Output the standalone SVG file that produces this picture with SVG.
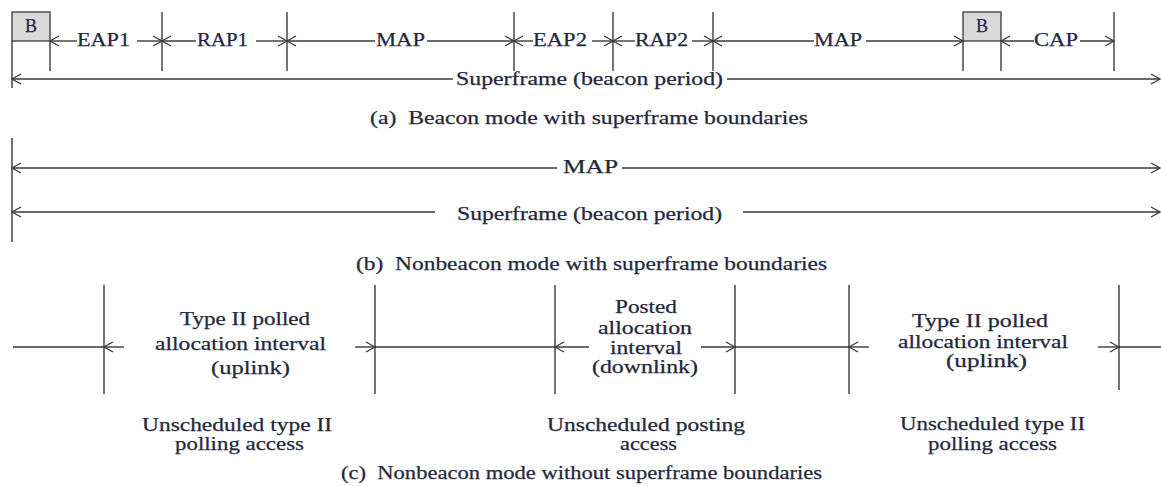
<svg xmlns="http://www.w3.org/2000/svg" width="1161" height="486" viewBox="0 0 1161 486">
  <defs>
    <style>
      .bg { fill: #ffffff; }
      .ln { stroke: #3a3a3a; stroke-width: 1.4; fill: none; }
      .ar { stroke: #3a3a3a; stroke-width: 1.4; fill: none; marker-end: url(#chev); }
      .box { fill: #d9d9d9; stroke: #444444; stroke-width: 1.4; }
      .t { font-family: "Liberation Serif", "Times New Roman", serif; font-size: 18px; fill: #25283d; stroke: #25283d; stroke-width: 0.25; }
      .cap { font-family: "Liberation Serif", "Times New Roman", serif; font-size: 18.5px; fill: #25283d; stroke: #25283d; stroke-width: 0.25; }
    </style>
    <!-- open chevron arrowhead, tip at the end of the line -->
    <marker id="chev" markerUnits="userSpaceOnUse" markerWidth="12" markerHeight="12" refX="10" refY="6" orient="auto">
      <path d="M1,1 L10,6 L1,11" fill="none" stroke="#3a3a3a" stroke-width="1.3"/>
    </marker>
  </defs>

  <rect class="bg" x="0" y="0" width="1161" height="486"/>

  <!-- (a) Beacon mode with superframe boundaries -->
  <g id="beacon-mode">
    <g id="beacon-1">
      <rect class="box" x="12" y="12" width="38" height="29"/>
      <text class="t" x="31" y="32" text-anchor="middle">B</text>
    </g>
    <g id="beacon-2">
      <rect class="box" x="963" y="12" width="38" height="29"/>
      <text class="t" x="982" y="32" text-anchor="middle">B</text>
    </g>
    <g id="boundaries-a">
      <line class="ln" x1="12" y1="41" x2="12" y2="88"/>
      <line class="ln" x1="50" y1="41" x2="50" y2="71"/>
      <line class="ln" x1="162" y1="12" x2="162" y2="71"/>
      <line class="ln" x1="287" y1="12" x2="287" y2="71"/>
      <line class="ln" x1="514" y1="12" x2="514" y2="71"/>
      <line class="ln" x1="613" y1="12" x2="613" y2="71"/>
      <line class="ln" x1="713" y1="12" x2="713" y2="71"/>
      <line class="ln" x1="963" y1="41" x2="963" y2="71"/>
      <line class="ln" x1="1001" y1="41" x2="1001" y2="71"/>
      <line class="ln" x1="1114" y1="12" x2="1114" y2="71"/>
    </g>
    <g id="labels-a">
      <text class="t" x="77" y="46" textLength="53" lengthAdjust="spacingAndGlyphs">EAP1</text>
      <text class="t" x="197" y="46" textLength="51" lengthAdjust="spacingAndGlyphs">RAP1</text>
      <text class="t" x="376" y="46" textLength="49" lengthAdjust="spacingAndGlyphs">MAP</text>
      <text class="t" x="533" y="46" textLength="54" lengthAdjust="spacingAndGlyphs">EAP2</text>
      <text class="t" x="635" y="46" textLength="53" lengthAdjust="spacingAndGlyphs">RAP2</text>
      <text class="t" x="814" y="46" textLength="48" lengthAdjust="spacingAndGlyphs">MAP</text>
      <text class="t" x="1034" y="46" textLength="44" lengthAdjust="spacingAndGlyphs">CAP</text>
      <text class="t" x="456" y="85" textLength="267" lengthAdjust="spacingAndGlyphs">Superframe (beacon period)</text>
      <text class="cap" x="370" y="124" textLength="438" lengthAdjust="spacingAndGlyphs" xml:space="preserve">(a)  Beacon mode with superframe boundaries</text>
    </g>
  </g>

  <!-- (b) Nonbeacon mode with superframe boundaries -->
  <g id="nonbeacon-bounded">
    <line class="ln" x1="12" y1="138" x2="12" y2="242"/>
    <text class="t" x="563" y="173" textLength="55" lengthAdjust="spacingAndGlyphs">MAP</text>
    <text class="t" x="457" y="220" textLength="265" lengthAdjust="spacingAndGlyphs">Superframe (beacon period)</text>
    <text class="cap" x="356" y="270" textLength="471" lengthAdjust="spacingAndGlyphs" xml:space="preserve">(b)  Nonbeacon mode with superframe boundaries</text>
  </g>

  <!-- (c) Nonbeacon mode without superframe boundaries -->
  <g id="nonbeacon-unbounded">
    <g id="boundaries-c">
      <line class="ln" x1="104" y1="285" x2="104" y2="394"/>
      <line class="ln" x1="375" y1="285" x2="375" y2="394"/>
      <line class="ln" x1="555" y1="285" x2="555" y2="394"/>
      <line class="ln" x1="735" y1="285" x2="735" y2="394"/>
      <line class="ln" x1="849" y1="285" x2="849" y2="394"/>
      <line class="ln" x1="1119" y1="285" x2="1119" y2="390"/>
    </g>
    <g id="uplink-interval-1">
      <text class="t" x="180" y="325" textLength="130" lengthAdjust="spacingAndGlyphs">Type II polled</text>
      <text class="t" x="155" y="350" textLength="171" lengthAdjust="spacingAndGlyphs">allocation interval</text>
      <text class="t" x="211" y="374" textLength="79" lengthAdjust="spacingAndGlyphs">(uplink)</text>
      <text class="t" x="142" y="431" textLength="190" lengthAdjust="spacingAndGlyphs">Unscheduled type II</text>
      <text class="t" x="175" y="450" textLength="129" lengthAdjust="spacingAndGlyphs">polling access</text>
    </g>
    <g id="downlink-interval">
      <text class="t" x="615" y="313" textLength="62" lengthAdjust="spacingAndGlyphs">Posted</text>
      <text class="t" x="598" y="334" textLength="94" lengthAdjust="spacingAndGlyphs">allocation</text>
      <text class="t" x="610" y="354" textLength="72" lengthAdjust="spacingAndGlyphs">interval</text>
      <text class="t" x="592" y="373" textLength="106" lengthAdjust="spacingAndGlyphs">(downlink)</text>
      <text class="t" x="547" y="431" textLength="198" lengthAdjust="spacingAndGlyphs">Unscheduled posting</text>
      <text class="t" x="620" y="450" textLength="57" lengthAdjust="spacingAndGlyphs">access</text>
    </g>
    <g id="uplink-interval-2">
      <text class="t" x="912" y="327" textLength="136" lengthAdjust="spacingAndGlyphs">Type II polled</text>
      <text class="t" x="898" y="348" textLength="170" lengthAdjust="spacingAndGlyphs">allocation interval</text>
      <text class="t" x="946" y="367" textLength="81" lengthAdjust="spacingAndGlyphs">(uplink)</text>
      <text class="t" x="900" y="430" textLength="185" lengthAdjust="spacingAndGlyphs">Unscheduled type II</text>
      <text class="t" x="928" y="450" textLength="129" lengthAdjust="spacingAndGlyphs">polling access</text>
    </g>
    <text class="cap" x="341" y="479" textLength="481" lengthAdjust="spacingAndGlyphs" xml:space="preserve">(c)  Nonbeacon mode without superframe boundaries</text>
  </g>

  <!-- dimension arrows and time axes -->
  <g id="connectors">
    <!-- (a) period arrows -->
    <line class="ar" x1="77" y1="41" x2="50" y2="41"/>
    <line class="ar" x1="137" y1="41" x2="162" y2="41"/>
    <line class="ar" x1="196" y1="41" x2="162" y2="41"/>
    <line class="ar" x1="256" y1="41" x2="287" y2="41"/>
    <line class="ar" x1="375" y1="41" x2="287" y2="41"/>
    <line class="ar" x1="427" y1="41" x2="514" y2="41"/>
    <line class="ar" x1="533" y1="41" x2="514" y2="41"/>
    <line class="ar" x1="592" y1="41" x2="613" y2="41"/>
    <line class="ar" x1="635" y1="41" x2="613" y2="41"/>
    <line class="ar" x1="692" y1="41" x2="713" y2="41"/>
    <line class="ar" x1="814" y1="41" x2="713" y2="41"/>
    <line class="ar" x1="866" y1="41" x2="963" y2="41"/>
    <line class="ar" x1="1034" y1="41" x2="1001" y2="41"/>
    <line class="ar" x1="1080" y1="41" x2="1114" y2="41"/>
    <line class="ar" x1="453" y1="79" x2="12" y2="79"/>
    <line class="ar" x1="727" y1="79" x2="1160" y2="79"/>
    <!-- (b) MAP and superframe arrows -->
    <line class="ar" x1="557" y1="168" x2="12" y2="168"/>
    <line class="ar" x1="622" y1="168" x2="1160" y2="168"/>
    <line class="ar" x1="435" y1="212" x2="12" y2="212"/>
    <line class="ar" x1="743" y1="212" x2="1160" y2="212"/>
    <!-- (c) time axis -->
    <line class="ln" x1="13" y1="347" x2="104" y2="347"/>
    <line class="ln" x1="375" y1="347" x2="555" y2="347"/>
    <line class="ln" x1="735" y1="347" x2="849" y2="347"/>
    <line class="ln" x1="1119" y1="347" x2="1161" y2="347"/>
    <line class="ar" x1="124" y1="347" x2="104" y2="347"/>
    <line class="ar" x1="355" y1="347" x2="375" y2="347"/>
    <line class="ar" x1="589" y1="347" x2="555" y2="347"/>
    <line class="ar" x1="701" y1="347" x2="735" y2="347"/>
    <line class="ar" x1="869" y1="347" x2="849" y2="347"/>
    <line class="ar" x1="1098" y1="347" x2="1119" y2="347"/>
  </g>
</svg>
